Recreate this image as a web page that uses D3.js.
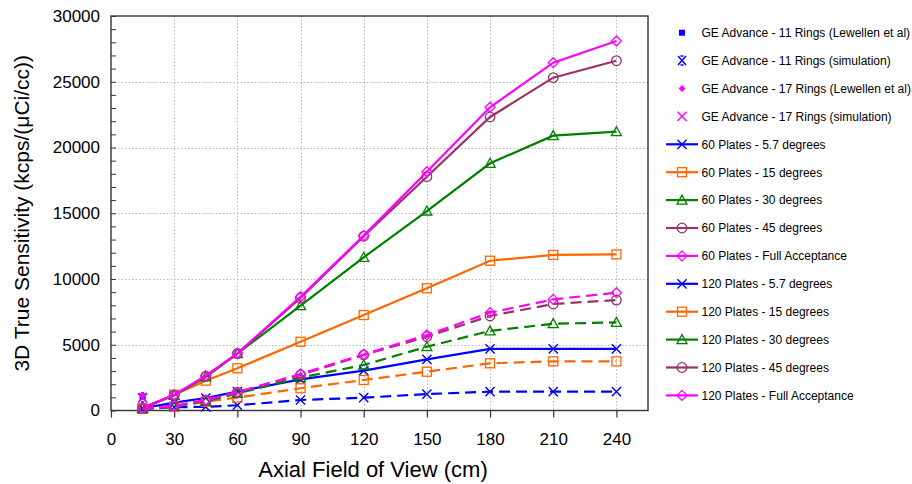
<!DOCTYPE html>
<html>
<head>
<meta charset="utf-8">
<script src="https://cdn.jsdelivr.net/npm/d3@7"></script>
<style>
  html, body { margin: 0; padding: 0; background: #fff; }
  svg { display: block; font-family: "Liberation Sans", Arial, sans-serif; }
</style>
</head>
<body>
<svg id="chart" width="912" height="484"></svg>
<script>
// Axial field of view (cm) sampled for each scanner geometry
const axialFov = [15, 30, 45, 60, 90, 120, 150, 180, 210, 240];

// 3D true sensitivity, kcps/(µCi/cc)
const plates60_5_7  = [170, 600, 950, 1430, 2370, 3030, 3890, 4680, 4680, 4680];
const plates60_15   = [150, 1200, 2270, 3210, 5230, 7260, 9290, 11390, 11830, 11870];
const plates60_30   = [180, 1150, 2550, 4320, 7980, 11650, 15170, 18800, 20900, 21200];
const plates60_45   = [200, 1170, 2600, 4330, 8550, 13250, 17780, 22320, 25310, 26600];
const plates60_full = [200, 1180, 2650, 4350, 8650, 13300, 18160, 23060, 26450, 28100];
const plates120_5_7  = [100, 250, 280, 400, 800, 975, 1250, 1430, 1430, 1430];
const plates120_15   = [120, 300, 670, 980, 1690, 2320, 2950, 3590, 3740, 3740];
const plates120_30   = [150, 330, 700, 1300, 2500, 3460, 4850, 6050, 6600, 6700];
const plates120_45   = [160, 340, 760, 1380, 2700, 4220, 5610, 7190, 8100, 8400];
const plates120_full = [170, 350, 800, 1400, 2775, 4260, 5740, 7440, 8450, 8960];

// GE Advance reference points (single axial FOV)
const geFov = [15];
const ge11Measured = [1050];
const ge11Simulated = [980];
const ge17Measured = [1150];
const ge17Simulated = [950];

const xTicks = [0, 30, 60, 90, 120, 150, 180, 210, 240];
const yTicks = [0, 5000, 10000, 15000, 20000, 25000, 30000];

const BLUE = "#0000ff", ORANGE = "#ff6600", GREEN = "#008000",
      MAROON = "#993366", MAGENTA = "#ff00ff";

const series = [
  { name: "GE Advance - 11 Rings (Lewellen et al)", x: geFov, y: ge11Measured, color: BLUE, marker: "fsquare", line: false },
  { name: "GE Advance - 11 Rings (simulation)", x: geFov, y: ge11Simulated, color: BLUE, marker: "boldx", line: false },
  { name: "GE Advance - 17 Rings (Lewellen et al)", x: geFov, y: ge17Measured, color: MAGENTA, marker: "fdiamond", line: false },
  { name: "GE Advance - 17 Rings (simulation)", x: geFov, y: ge17Simulated, color: MAGENTA, marker: "x", line: false },
  { name: "60 Plates - 5.7 degrees", x: axialFov, y: plates60_5_7, color: BLUE, marker: "x", line: true },
  { name: "60 Plates - 15 degrees", x: axialFov, y: plates60_15, color: ORANGE, marker: "square", line: true },
  { name: "60 Plates - 30 degrees", x: axialFov, y: plates60_30, color: GREEN, marker: "triangle", line: true },
  { name: "60 Plates - 45 degrees", x: axialFov, y: plates60_45, color: MAROON, marker: "circle", line: true },
  { name: "60 Plates - Full Acceptance", x: axialFov, y: plates60_full, color: MAGENTA, marker: "diamond", line: true },
  { name: "120 Plates - 5.7 degrees", x: axialFov, y: plates120_5_7, color: BLUE, marker: "x", line: true, dashed: true },
  { name: "120 Plates - 15 degrees", x: axialFov, y: plates120_15, color: ORANGE, marker: "square", line: true, dashed: true },
  { name: "120 Plates - 30 degrees", x: axialFov, y: plates120_30, color: GREEN, marker: "triangle", line: true, dashed: true },
  { name: "120 Plates - 45 degrees", x: axialFov, y: plates120_45, color: MAROON, marker: "circle", line: true, dashed: true },
  { name: "120 Plates - Full Acceptance", x: axialFov, y: plates120_full, color: MAGENTA, marker: "diamond", line: true, dashed: true }
];

const svg = d3.select("#chart");
const plot = { left: 111, right: 648, top: 16, bottom: 410.5 };

const x = d3.scaleLinear().domain([0, 255]).range([plot.left, plot.right]);
const y = d3.scaleLinear().domain([0, 30000]).range([plot.bottom, plot.top]);

// Dotted grid
const grid = svg.append("g").attr("stroke", "#b8b8b8").attr("stroke-width", 1).attr("stroke-dasharray", "1.5,2");
grid.selectAll("line.v").data(xTicks.filter(d => d > 0)).join("line")
  .attr("x1", d => Math.round(x(d)) + 0.5).attr("x2", d => Math.round(x(d)) + 0.5)
  .attr("y1", plot.top).attr("y2", plot.bottom);
grid.selectAll("line.h").data(yTicks.filter(d => d > 0 && d < 30000)).join("line")
  .attr("x1", plot.left).attr("x2", plot.right)
  .attr("y1", d => Math.round(y(d)) + 0.5).attr("y2", d => Math.round(y(d)) + 0.5);

// Axes
const xAxis = d3.axisBottom(x).tickValues(xTicks).tickSize(7).tickPadding(15).tickFormat(d3.format("d"));
const gx = svg.append("g").attr("transform", `translate(0,${plot.bottom})`).call(xAxis);
gx.select(".domain").remove();
gx.selectAll(".tick line").attr("stroke", "#333").attr("stroke-width", 1.2);
gx.selectAll(".tick text").attr("font-size", 17).attr("fill", "#000")
  .attr("font-family", "'Liberation Sans', Arial, sans-serif");

const yMinor = d3.range(0, 30001, 1000);
const gyMinor = svg.append("g").attr("transform", `translate(${plot.left},0)`)
  .call(d3.axisRight(y).tickValues(yMinor).tickSize(5).tickFormat(""));
gyMinor.select(".domain").remove();
gyMinor.selectAll(".tick line").attr("stroke", "#333").attr("stroke-width", 1);

const yAxis = d3.axisLeft(y).tickValues(yTicks).tickSize(0).tickPadding(11).tickFormat(d3.format("d"));
const gy = svg.append("g").attr("transform", `translate(${plot.left},0)`).call(yAxis);
gy.select(".domain").remove();
gy.selectAll(".tick text").attr("font-size", 17).attr("fill", "#000")
  .attr("font-family", "'Liberation Sans', Arial, sans-serif");

// Plot frame
svg.append("rect")
  .attr("x", plot.left).attr("y", plot.top)
  .attr("width", plot.right - plot.left).attr("height", plot.bottom - plot.top)
  .attr("fill", "none").attr("stroke", "#333").attr("stroke-width", 1.4);

// Axis titles
svg.append("text").attr("x", 373).attr("y", 477).attr("text-anchor", "middle")
  .attr("font-size", 22).attr("fill", "#000").text("Axial Field of View (cm)");
svg.append("text").attr("transform", `translate(29,${(plot.top + plot.bottom) / 2}) rotate(-90)`)
  .attr("text-anchor", "middle").attr("font-size", 21).attr("fill", "#000")
  .text("3D True Sensitivity (kcps/(μCi/cc))");

// Marker drawing
function drawMarker(g, type, cx, cy, color) {
  const s = 4.6;
  switch (type) {
    case "fsquare":
      g.append("rect").attr("x", cx - 3).attr("y", cy - 3).attr("width", 6).attr("height", 6).attr("fill", color);
      break;
    case "fdiamond":
      g.append("path").attr("d", `M${cx},${cy - 3.5}L${cx + 3.5},${cy}L${cx},${cy + 3.5}L${cx - 3.5},${cy}Z`).attr("fill", color);
      break;
    case "boldx":
      g.append("path").attr("d", `M${cx - 4},${cy - 4.5}L${cx + 4},${cy + 4.5}M${cx + 4},${cy - 4.5}L${cx - 4},${cy + 4.5}M${cx - 1.5},${cy - 4.5}H${cx + 1.5}M${cx - 1.5},${cy + 4.5}H${cx + 1.5}`)
        .attr("stroke", color).attr("stroke-width", 1.5).attr("fill", "none");
      break;
    case "x":
      g.append("path").attr("d", `M${cx - s},${cy - s}L${cx + s},${cy + s}M${cx + s},${cy - s}L${cx - s},${cy + s}`)
        .attr("stroke", color).attr("stroke-width", 1.4).attr("fill", "none");
      break;
    case "square":
      g.append("rect").attr("x", cx - 4.5).attr("y", cy - 4.5).attr("width", 9).attr("height", 9)
        .attr("fill", "none").attr("stroke", color).attr("stroke-width", 1.3);
      break;
    case "triangle":
      g.append("path").attr("d", `M${cx},${cy - 5}L${cx + 5},${cy + 4}L${cx - 5},${cy + 4}Z`)
        .attr("fill", "none").attr("stroke", color).attr("stroke-width", 1.3);
      break;
    case "circle":
      g.append("circle").attr("cx", cx).attr("cy", cy).attr("r", 4.8)
        .attr("fill", "none").attr("stroke", color).attr("stroke-width", 1.3);
      break;
    case "diamond":
      g.append("path").attr("d", `M${cx},${cy - 5}L${cx + 5},${cy}L${cx},${cy + 5}L${cx - 5},${cy}Z`)
        .attr("fill", "none").attr("stroke", color).attr("stroke-width", 1.3);
      break;
  }
}

// Series
const lineGen = d3.line().x(d => x(d[0])).y(d => y(d[1]));
const marks = svg.append("g");
series.forEach(s => {
  const pts = s.x.map((v, i) => [v, s.y[i]]);
  const g = marks.append("g");
  if (s.line) {
    g.append("path").datum(pts).attr("d", lineGen)
      .attr("fill", "none").attr("stroke", s.color).attr("stroke-width", 2.2)
      .attr("stroke-dasharray", s.dashed ? "11,6" : null);
  }
  pts.forEach(p => drawMarker(g, s.marker, x(p[0]), y(p[1]), s.color));
});

// Legend
const legend = svg.append("g");
series.forEach((s, i) => {
  const cy = 32.7 + i * 27.9;
  const g = legend.append("g");
  if (s.line) {
    g.append("line").attr("x1", 666).attr("x2", 698).attr("y1", cy).attr("y2", cy)
      .attr("stroke", s.color).attr("stroke-width", 2.2);
  }
  drawMarker(g, s.marker, 682, cy, s.color);
  g.append("text").attr("x", 701.5).attr("y", cy + 4.3).attr("font-size", 12)
    .attr("fill", "#000").text(s.name);
});
</script>
</body>
</html>
